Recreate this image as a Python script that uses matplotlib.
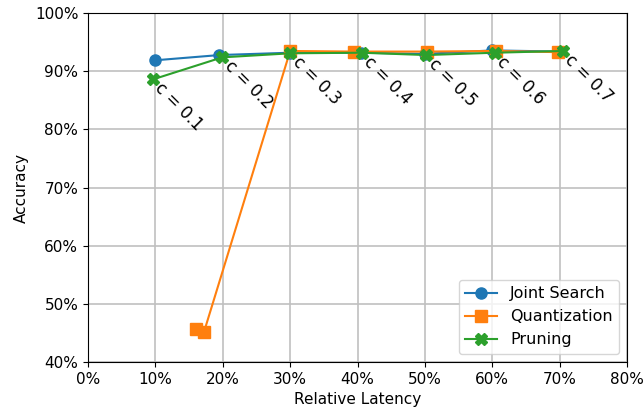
import matplotlib
matplotlib.use("Agg")
import matplotlib.pyplot as plt
from matplotlib.ticker import PercentFormatter

joint_lat = [0.10, 0.195, 0.30, 0.405, 0.50, 0.60, 0.70]
joint_acc = [0.919, 0.928, 0.932, 0.932, 0.930, 0.936, 0.934]

quant_lat = [0.16, 0.172, 0.30, 0.395, 0.503, 0.605, 0.697]
quant_acc = [0.457, 0.451, 0.935, 0.934, 0.934, 0.935, 0.933]

prune_lat = [0.096, 0.199, 0.30, 0.406, 0.502, 0.604, 0.705]
prune_acc = [0.886, 0.924, 0.931, 0.932, 0.928, 0.932, 0.935]
prune_labels = ["c = 0.1", "c = 0.2", "c = 0.3", "c = 0.4", "c = 0.5", "c = 0.6", "c = 0.7"]

plt.rcParams["font.size"] = 11

fig, ax = plt.subplots(figsize=(6.43, 4.13), dpi=100)
ax.plot(joint_lat, joint_acc, marker="o", markersize=8, label="Joint Search")
ax.plot(quant_lat, quant_acc, marker="s", markersize=8, label="Quantization")
ax.plot(prune_lat, prune_acc, marker="X", markersize=8, label="Pruning")

for x, y, t in zip(prune_lat, prune_acc, prune_labels):
    ax.annotate(t, (x, y), xytext=(-1, 0), textcoords="offset points",
                rotation=-45, ha="left", va="top", fontsize=12)

ax.set_xlim(0, 0.8)
ax.set_ylim(0.4, 1.0)
ax.xaxis.set_major_formatter(PercentFormatter(1.0, decimals=0))
ax.yaxis.set_major_formatter(PercentFormatter(1.0, decimals=0))
ax.set_xlabel("Relative Latency")
ax.set_ylabel("Accuracy")
ax.grid(True, color="#c0c0c0", linewidth=1.2)
ax.legend(loc="lower right", fontsize=11.5)
fig.subplots_adjust(left=0.137, right=0.975, bottom=0.124, top=0.968)
fig.savefig("out.png")
